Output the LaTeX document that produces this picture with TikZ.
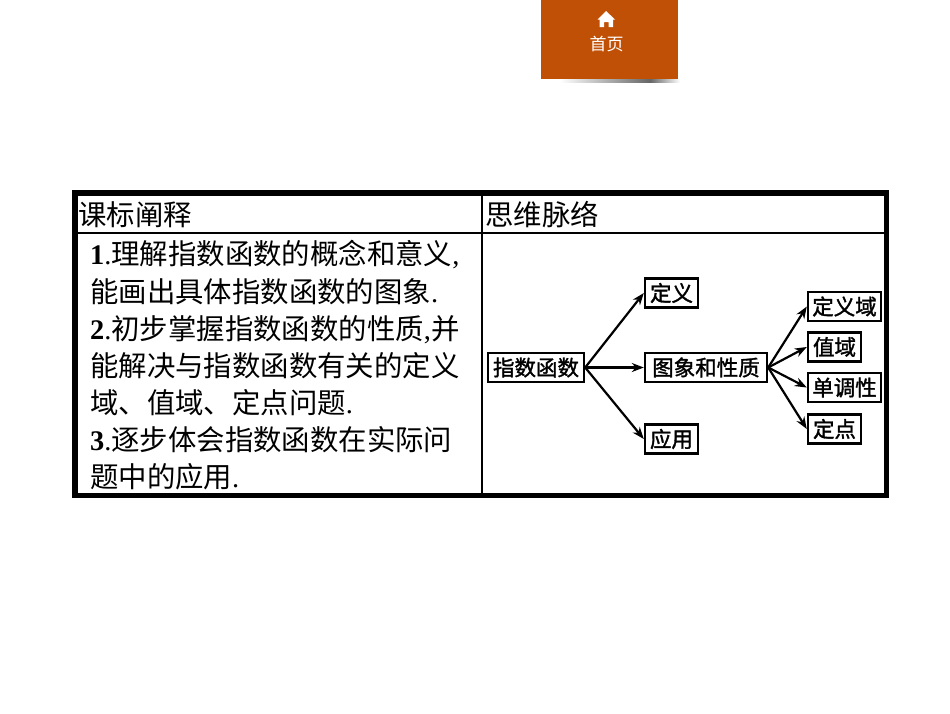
\documentclass[tikz,border=0pt]{standalone}
\usepackage{fontspec}
\setmainfont{Noto Sans CJK SC}
\newfontfamily\latinserif{Liberation Serif}
\newfontfamily\flowfont[FakeBold=1.5]{Noto Sans CJK SC}
\usetikzlibrary{arrows.meta}
\definecolor{tabOrange}{HTML}{C05006}
\tikzset{
  x=1pt,y=-1pt,
  bodyline/.style={anchor=west,inner sep=0pt,font=\fontsize{28.4}{28.4}\selectfont,text=black},
  headline/.style={bodyline},
  flowbox/.style={draw=black,line width=2.4pt,fill=white,inner sep=0pt,align=center,font=\flowfont\fontsize{21.5}{22}\selectfont,text=black,minimum height=29pt},
  flowarrow/.style={draw=black,line width=2.2pt,-{Stealth[length=12pt,width=9pt]}},
  tableouter/.style={draw=black,line width=5.5pt},
  tableinner/.style={draw=black,line width=2.2pt},
}
\newcommand{\lsb}[1]{{\latinserif\bfseries #1}}
\newcommand{\lsr}[1]{{\latinserif #1}}
\begin{document}
\begin{tikzpicture}
\useasboundingbox (0,0) rectangle (950,713);
\fill[white] (0,0) rectangle (950,713);
% tab
\shade[left color=white,right color=black!60] (560,79) rectangle (650,82);
\shade[left color=black!60,right color=white] (650,79) rectangle (680,82);
\fill[tabOrange] (541,0) rectangle (678,79);
\fill[white] (606,11) -- (615,19.5) -- (613,19.5) -- (613,27) -- (608.5,27) -- (608.5,22) -- (604,22) -- (604,27) -- (599.5,27) -- (599.5,19.5) -- (597.5,19.5) -- cycle;
\node[inner sep=0pt,text=white,font=\fontsize{17}{17}\selectfont] (home) at (606.5,44) {首页};
% table
\draw[tableinner] (482,193) -- (482,496);
\draw[tableinner] (75,233) -- (886,233);
\draw[tableouter] (75,193) rectangle (886.5,495.5);
% headers
\node[headline] (h1) at (78,214.5) {课标阐释};
\node[headline] (h2) at (485,214.5) {思维脉络};
% body text
\node[bodyline] (l1) at (90,254.5) {\lsb{1}\lsr{.}理解指数函数的概念和意义\lsr{,}};
\node[bodyline] (l2) at (90,291.5) {能画出具体指数函数的图象\lsr{.}};
\node[bodyline] (l3) at (90,329.5) {\lsb{2}\lsr{.}初步掌握指数函数的性质\lsr{,}并};
\node[bodyline] (l4) at (90,365.5) {能解决与指数函数有关的定义};
\node[bodyline] (l5) at (90,402.5) {域、值域、定点问题\lsr{.}};
\node[bodyline] (l6) at (90,439.5) {\lsb{3}\lsr{.}逐步体会指数函数在实际问};
\node[bodyline] (l7) at (90,476.5) {题中的应用\lsr{.}};
% flow boxes
\node[flowbox,minimum width=96pt] (root) at (536,367.5) {指数函数};
\node[flowbox,minimum width=53pt] (def) at (671.5,293) {定义};
\node[flowbox,minimum width=122pt] (graph) at (706,367.5) {图象和性质};
\node[flowbox,minimum width=53pt] (app) at (671.5,439) {应用};
\node[flowbox,minimum width=73pt] (dom) at (844.5,306.5) {定义域};
\node[flowbox,minimum width=53pt] (ran) at (834.5,347) {值域};
\node[flowbox,minimum width=73pt] (mono) at (844.5,387.5) {单调性};
\node[flowbox,minimum width=53pt] (fix) at (834.5,429) {定点};
% arrows
\draw[flowarrow] (root.east) -- (def.west);
\draw[flowarrow] (root.east) -- (graph.west);
\draw[flowarrow] (root.east) -- (app.west);
\draw[flowarrow] (graph.east) -- (dom.west);
\draw[flowarrow] (graph.east) -- (ran.west);
\draw[flowarrow] (graph.east) -- (mono.west);
\draw[flowarrow] (graph.east) -- (fix.west);
\end{tikzpicture}
\end{document}
